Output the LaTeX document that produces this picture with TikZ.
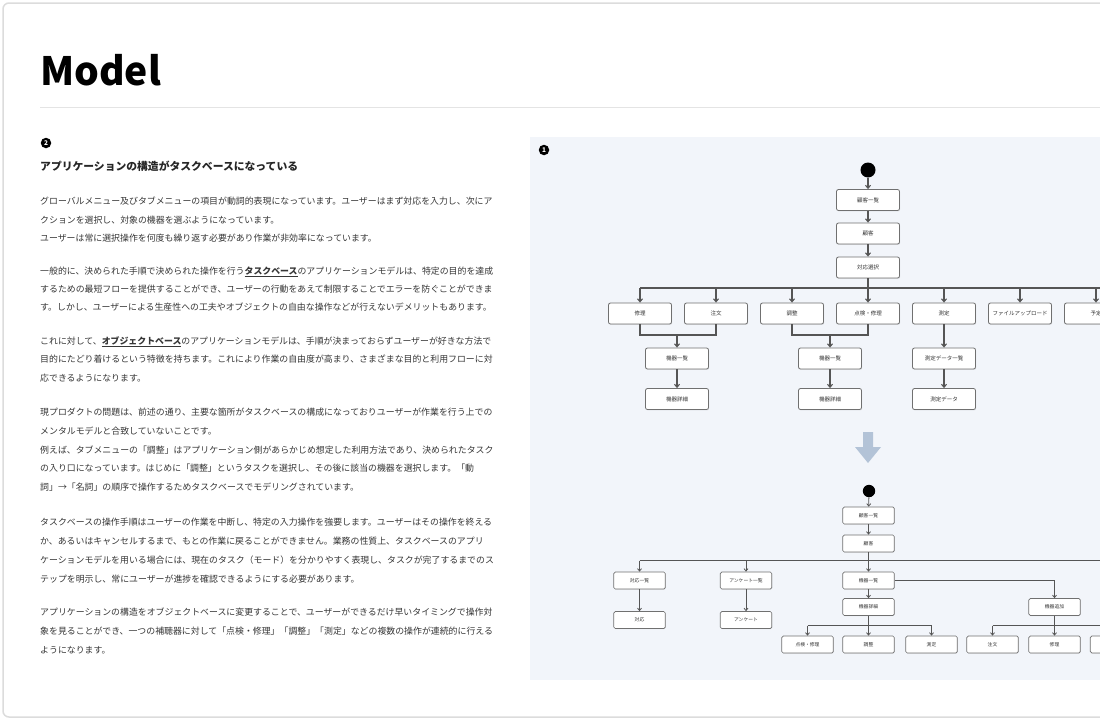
\documentclass[tikz,border=0pt]{standalone}
\usepackage{fontspec}
\newfontfamily\cjk{Noto Sans CJK JP}
\usetikzlibrary{arrows.meta,shadows}
\definecolor{panel}{HTML}{F2F5FA}
\definecolor{txt}{HTML}{363636}
\definecolor{conncol}{HTML}{555555}
\definecolor{boxline}{HTML}{707070}
\definecolor{bigarrow}{HTML}{B3C3D7}
\definecolor{framecol}{HTML}{DCDCDC}
\definecolor{rulecol}{HTML}{E4E4E4}
\tikzset{
  body/.style={anchor=base west, inner sep=0pt, font=\cjk\fontsize{8.9}{10}\selectfont, text=txt},
  badge/.style={circle, fill=black, text=white, inner sep=0pt, minimum size=10.5pt, font=\cjk\bfseries\fontsize{6.5}{7}\selectfont},
  dot/.style={circle, fill=black, inner sep=0pt},
  tbox/.style={draw=boxline, fill=white, rounded corners=2pt, minimum width=63pt, minimum height=21pt, line width=0.8pt, inner sep=0pt, font=\cjk\fontsize{5.5}{6}\selectfont, text=black!80, drop shadow={opacity=0.18, shadow xshift=0.6pt, shadow yshift=-0.9pt}},
  sbox/.style={draw=boxline, fill=white, rounded corners=1.5pt, minimum width=51.5pt, minimum height=17pt, line width=0.7pt, inner sep=0pt, font=\cjk\fontsize{4.8}{5}\selectfont, text=black!80, drop shadow={opacity=0.18, shadow xshift=0.5pt, shadow yshift=-0.7pt}},
  tline/.style={draw=conncol, line width=1.1pt},
  tconn/.style={tline, -{Straight Barb[length=3pt,width=5pt]}},
  sline/.style={draw=conncol, line width=0.8pt},
  sconn/.style={sline, -{Straight Barb[length=2.4pt,width=4pt]}},
}
\begin{document}
\begin{tikzpicture}[x=1pt,y=-1pt]
\useasboundingbox (0,0) rectangle (1100,720);
\clip (0,0) rectangle (1100,720);
\fill[white] (0,0) rectangle (1100,720);
\draw[framecol, line width=1.5pt, rounded corners=6pt] (3,3) rectangle (1130,717);

% title
\node[anchor=base west, inner sep=0pt, font=\cjk\bfseries\fontsize{39}{39}\selectfont, text=black] (title) at (40,85) {Model};
\draw[rulecol, line width=1pt] (40,107) -- (1100,107);

% left column
\node[badge] (bl) at (46,143) {2};
\node[anchor=base west, inner sep=0pt, font=\cjk\bfseries\fontsize{10.8}{12}\selectfont, text=black!85] (head) at (40,170) {アプリケーションの構造がタスクベースになっている};

\node[body] (p1a) at (40,204.4) {グローバルメニュー及びタブメニューの項目が動詞的表現になっています。ユーザーはまず対応を入力し、次にア};
\node[body] (p1b) at (40,223.1) {クションを選択し、対象の機器を選ぶようになっています。};
\node[body] (p1c) at (40,241.6) {ユーザーは常に選択操作を何度も繰り返す必要があり作業が非効率になっています。};

\node[body] (p2a) at (40,274.4) {一般的に、決められた手順で決められた操作を行う\underline{\bfseries タスクベース}のアプリケーションモデルは、特定の目的を達成};
\node[body] (p2b) at (40,292.6) {するための最短フローを提供することができ、ユーザーの行動をあえて制限することでエラーを防ぐことができま};
\node[body] (p2c) at (40,310.6) {す。しかし、ユーザーによる生産性への工夫やオブジェクトの自由な操作などが行えないデメリットもあります。};

\node[body] (p3a) at (40,344.4) {これに対して、\underline{\bfseries オブジェクトベース}のアプリケーションモデルは、手順が決まっておらずユーザーが好きな方法で};
\node[body] (p3b) at (40,362.6) {目的にたどり着けるという特徴を持ちます。これにより作業の自由度が高まり、さまざまな目的と利用フローに対};
\node[body] (p3c) at (40,381.4) {応できるようになります。};

\node[body] (p4a) at (40,415.4) {現プロダクトの問題は、前述の通り、主要な箇所がタスクベースの構成になっておりユーザーが作業を行う上での};
\node[body] (p4b) at (40,434.1) {メンタルモデルと合致していないことです。};
\node[body] (p4c) at (40,453.1) {例えば、タブメニューの「調整」はアプリケーション側があらかじめ想定した利用方法であり、決められたタスク};
\node[body] (p4d) at (40,471.6) {の入り口になっています。はじめに「調整」というタスクを選択し、その後に該当の機器を選択します。「動};
\node[body] (p4e) at (40,490.4) {詞」→「名詞」の順序で操作するためタスクベースでモデリングされています。};

\node[body] (p5a) at (40,525.4) {タスクベースの操作手順はユーザーの作業を中断し、特定の入力操作を強要します。ユーザーはその操作を終える};
\node[body] (p5b) at (40,544.4) {か、あるいはキャンセルするまで、もとの作業に戻ることができません。業務の性質上、タスクベースのアプリ};
\node[body] (p5c) at (40,563.4) {ケーションモデルを用いる場合には、現在のタスク（モード）を分かりやすく表現し、タスクが完了するまでのス};
\node[body] (p5d) at (40,582.4) {テップを明示し、常にユーザーが進捗を確認できるようにする必要があります。};

\node[body] (p6a) at (40,615.4) {アプリケーションの構造をオブジェクトベースに変更することで、ユーザーができるだけ早いタイミングで操作対};
\node[body] (p6b) at (40,634.4) {象を見ることができ、一つの補聴器に対して「点検・修理」「調整」「測定」などの複数の操作が連続的に行える};
\node[body] (p6c) at (40,653.4) {ようになります。};

% right panel
\fill[panel] (530,137) rectangle (1100,680);
\node[badge] (br) at (544,150) {1};

% ---- top diagram ----
\node[dot, minimum size=15pt] (ts) at (868,170) {};
\node[tbox] (t1) at (868,200) {顧客一覧};
\node[tbox] (t2) at (868,233.5) {顧客};
\node[tbox] (t3) at (868,267.5) {対応選択};
\coordinate (tbus) at (640,288);
\coordinate (tbusR) at (1110,288);
\node[tbox] (r1) at (640,313.5) {修理};
\node[tbox] (r2) at (716,313.5) {注文};
\node[tbox] (r3) at (792,313.5) {調整};
\node[tbox] (r4) at (868,313.5) {点検・修理};
\node[tbox] (r5) at (944,313.5) {測定};
\node[tbox] (r6) at (1020,313.5) {ファイルアップロード};
\node[tbox] (r7) at (1096,313.5) {予定};
\coordinate (ja) at (677,335);
\coordinate (jb) at (830,335);
\node[tbox] (m1) at (677,358.5) {機器一覧};
\node[tbox] (m2) at (830,358.5) {機器一覧};
\node[tbox] (m3) at (944,358.5) {測定データ一覧};
\node[tbox] (d1) at (677,399) {機器詳細};
\node[tbox] (d2) at (830,399) {機器詳細};
\node[tbox] (d3) at (944,399) {測定データ};

\draw[tconn] (ts) -- (t1);
\draw[tconn] (t1) -- (t2);
\draw[tconn] (t2) -- (t3);
\draw[tconn] (t3) -- (r4);
\draw[tline] (r1.north |- tbus) -- (tbusR);
\foreach \n in {r1,r2,r3,r5,r6,r7} \draw[tconn] (\n.north |- tbus) -- (\n.north);
\draw[tline] (r1.south) |- (ja) -| (r2.south);
\draw[tline] (r3.south) |- (jb) -| (r4.south);
\draw[tconn] (ja) -- (m1);
\draw[tconn] (jb) -- (m2);
\draw[tconn] (r5) -- (m3);
\draw[tconn] (m1) -- (d1);
\draw[tconn] (m2) -- (d2);
\draw[tconn] (m3) -- (d3);

% big arrow
\fill[bigarrow] (863,432) -- (873,432) -- (873,447) -- (881,447) -- (868,463) -- (855,447) -- (863,447) -- cycle;

% ---- bottom diagram ----
\node[dot, minimum size=12.4pt] (bs) at (869,491) {};
\node[sbox] (b1) at (868.5,515.5) {顧客一覧};
\node[sbox] (b2) at (868.5,543.5) {顧客};
\coordinate (bbus) at (639.5,560.5);
\coordinate (bbusR) at (1110,560.5);
\node[sbox] (c1) at (639.5,580.5) {対応一覧};
\node[sbox] (c2) at (746,580.5) {アンケート一覧};
\node[sbox] (c3) at (868.5,580.5) {機器一覧};
\node[sbox] (f1) at (639.5,620) {対応};
\node[sbox] (f2) at (746,620) {アンケート};
\node[sbox] (e3) at (868.5,607) {機器詳細};
\node[sbox] (e4) at (1054.5,607) {機器追加};
\coordinate (bbus2) at (807.5,625.5);
\coordinate (bbus3) at (992.5,625.5);
\coordinate (bbus3R) at (1120,625.5);
\node[sbox] (g1) at (807.5,644.5) {点検・修理};
\node[sbox] (g2) at (868.5,644.5) {調整};
\node[sbox] (g3) at (931.5,644.5) {測定};
\node[sbox] (g4) at (992.5,644.5) {注文};
\node[sbox] (g5) at (1054.5,644.5) {修理};
\node[sbox] (g6) at (1116,644.5) {};

\draw[sconn] (bs) -- (b1);
\draw[sconn] (b1) -- (b2);
\draw[sconn] (b2) -- (c3);
\draw[sline] (bbus) -- (bbusR);
\draw[sconn] (bbus) -- (c1);
\draw[sconn] (c2.north |- bbus) -- (c2.north);
\draw[sconn] (c1) -- (f1);
\draw[sconn] (c2) -- (f2);
\draw[sconn] (c3) -- (e3);
\draw[sconn] (c3.east) -| (e4.north);
\draw[sconn] (e3) -- (g2);
\draw[sline] (bbus2) -- (g3.north |- bbus2);
\draw[sconn] (bbus2) -- (g1);
\draw[sconn] (g3.north |- bbus2) -- (g3.north);
\draw[sconn] (e4) -- (g5);
\draw[sline] (bbus3) -- (bbus3R);
\draw[sconn] (bbus3) -- (g4);
\draw[sconn] (g6.north |- bbus3) -- (g6.north);
\end{tikzpicture}
\end{document}
